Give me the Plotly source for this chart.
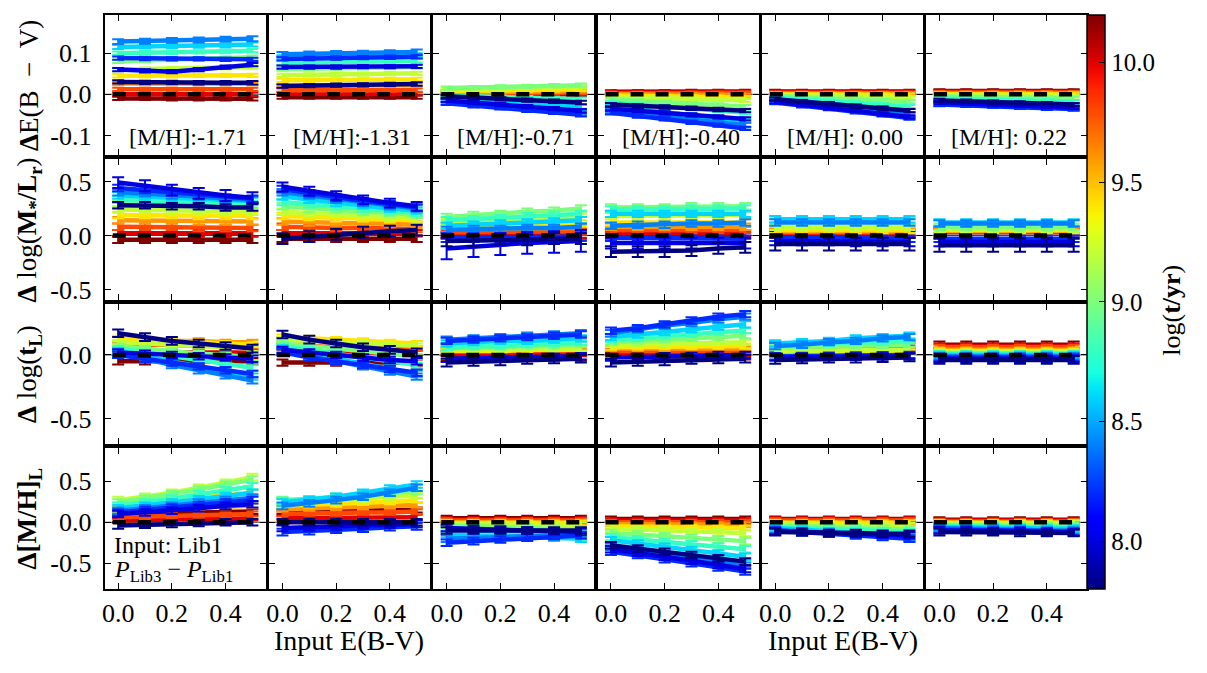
import numpy as np
import plotly.graph_objects as go
from plotly.subplots import make_subplots

# ---------------- data ----------------
AGES = [7.8, 8.0, 8.2, 8.4, 8.6, 8.8, 9.0, 9.2, 9.4, 9.6, 9.8, 10.0, 10.2]
XPTS = [0.0, 0.1, 0.2, 0.3, 0.4, 0.5]
MH_LABELS = ["[M/H]:-1.71", "[M/H]:-1.31", "[M/H]:-0.71", "[M/H]:-0.40", "[M/H]: 0.00", "[M/H]: 0.22"]
ROW_TITLES = ["<b>Δ</b>E(B\u2002−\u2002V)",
              "<b>Δ</b> log(<b>M<sub>*</sub>/L<sub>r</sub></b>)",
              "<b>Δ</b> log(<b>t<sub>L</sub></b>)",
              "<b>Δ[M/H]<sub>L</sub></b>"]
X_TICKVALS = [0.0, 0.2, 0.4]
X_TICKTEXT = ["0.0", "0.2", "0.4"]
Y_TICKVALS = [[-0.1, 0.0, 0.1], [-0.5, 0.0, 0.5], [-0.5, 0.0], [-0.5, 0.0, 0.5]]
Y_TICKTEXT = [["-0.1", "0.0", "0.1"], ["-0.5", "0.0", "0.5"], ["-0.5", "0.0"], ["-0.5", "0.0", "0.5"]]
CB_TICKS = [8.0, 8.5, 9.0, 9.5, 10.0]
CB_TICKTEXT = ["8.0", "8.5", "9.0", "9.5", "10.0"]

# Row 1: Delta E(B-V)  (one row per age in AGES, values at XPTS)
dEBV_171 = [
    [0.030, 0.029, 0.029, 0.028, 0.028, 0.028],
    [0.060, 0.057, 0.055, 0.060, 0.066, 0.072],
    [0.088, 0.087, 0.086, 0.086, 0.085, 0.085],
    [0.128, 0.129, 0.131, 0.132, 0.134, 0.135],
    [0.115, 0.116, 0.117, 0.118, 0.119, 0.121],
    [0.100, 0.101, 0.102, 0.103, 0.104, 0.106],
    [0.080, 0.082, 0.084, 0.086, 0.088, 0.090],
    [0.060, 0.061, 0.062, 0.063, 0.064, 0.066],
    [0.045, 0.045, 0.045, 0.046, 0.046, 0.046],
    [0.026, 0.026, 0.026, 0.026, 0.026, 0.026],
    [0.012, 0.012, 0.012, 0.012, 0.012, 0.012],
    [0.000, 0.000, 0.000, 0.000, 0.000, 0.000],
    [-0.010, -0.010, -0.011, -0.011, -0.011, -0.011],
]
dEBV_131 = [
    [0.020, 0.021, 0.022, 0.023, 0.024, 0.025],
    [0.066, 0.066, 0.066, 0.067, 0.067, 0.068],
    [0.086, 0.087, 0.088, 0.089, 0.090, 0.091],
    [0.097, 0.098, 0.099, 0.100, 0.101, 0.103],
    [0.090, 0.091, 0.092, 0.093, 0.094, 0.095],
    [0.076, 0.077, 0.078, 0.079, 0.080, 0.081],
    [0.061, 0.062, 0.063, 0.064, 0.065, 0.066],
    [0.046, 0.047, 0.048, 0.049, 0.050, 0.051],
    [0.034, 0.034, 0.035, 0.035, 0.036, 0.036],
    [0.021, 0.021, 0.021, 0.021, 0.022, 0.022],
    [0.010, 0.010, 0.010, 0.010, 0.010, 0.010],
    [0.001, 0.001, 0.001, 0.001, 0.001, 0.001],
    [-0.007, -0.007, -0.007, -0.007, -0.007, -0.007],
]
dEBV_071 = [
    [-0.005, -0.008, -0.011, -0.014, -0.017, -0.020],
    [-0.015, -0.020, -0.025, -0.030, -0.035, -0.040],
    [-0.022, -0.028, -0.033, -0.039, -0.044, -0.050],
    [-0.018, -0.023, -0.029, -0.034, -0.040, -0.045],
    [-0.008, -0.012, -0.017, -0.021, -0.026, -0.030],
    [-0.003, -0.005, -0.007, -0.008, -0.010, -0.012],
    [0.015, 0.016, 0.018, 0.019, 0.021, 0.022],
    [0.012, 0.013, 0.014, 0.016, 0.017, 0.018],
    [0.008, 0.009, 0.010, 0.010, 0.011, 0.012],
    [0.005, 0.006, 0.006, 0.007, 0.007, 0.008],
    [0.003, 0.003, 0.003, 0.004, 0.004, 0.004],
    [0.001, 0.001, 0.001, 0.002, 0.002, 0.002],
    [0.000, 0.000, 0.000, 0.000, 0.000, 0.000],
]
dEBV_040 = [
    [-0.025, -0.028, -0.031, -0.034, -0.037, -0.040],
    [-0.035, -0.040, -0.045, -0.050, -0.055, -0.060],
    [-0.045, -0.053, -0.060, -0.068, -0.075, -0.083],
    [-0.040, -0.047, -0.054, -0.061, -0.068, -0.075],
    [-0.030, -0.037, -0.044, -0.051, -0.058, -0.065],
    [-0.020, -0.025, -0.030, -0.035, -0.040, -0.045],
    [-0.012, -0.016, -0.019, -0.023, -0.026, -0.030],
    [-0.006, -0.008, -0.010, -0.011, -0.013, -0.015],
    [-0.003, -0.004, -0.005, -0.006, -0.007, -0.008],
    [0.000, 0.000, -0.001, -0.001, -0.002, -0.002],
    [0.002, 0.002, 0.002, 0.003, 0.003, 0.003],
    [0.004, 0.004, 0.004, 0.005, 0.005, 0.005],
    [0.006, 0.006, 0.006, 0.007, 0.007, 0.007],
]
dEBV_000 = [
    [-0.012, -0.018, -0.023, -0.029, -0.034, -0.040],
    [-0.018, -0.025, -0.033, -0.040, -0.048, -0.055],
    [-0.020, -0.028, -0.035, -0.043, -0.050, -0.058],
    [-0.016, -0.023, -0.030, -0.036, -0.043, -0.050],
    [-0.012, -0.018, -0.023, -0.029, -0.034, -0.040],
    [-0.008, -0.012, -0.017, -0.021, -0.026, -0.030],
    [-0.004, -0.007, -0.010, -0.012, -0.015, -0.018],
    [-0.002, -0.003, -0.004, -0.006, -0.007, -0.008],
    [0.000, 0.000, -0.001, -0.001, -0.002, -0.002],
    [0.001, 0.001, 0.001, 0.001, 0.001, 0.001],
    [0.003, 0.003, 0.003, 0.003, 0.003, 0.003],
    [0.005, 0.005, 0.005, 0.005, 0.005, 0.005],
    [0.007, 0.007, 0.007, 0.007, 0.007, 0.007],
]
dEBV_022 = [
    [-0.015, -0.017, -0.019, -0.021, -0.023, -0.025],
    [-0.020, -0.022, -0.025, -0.027, -0.030, -0.032],
    [-0.025, -0.027, -0.029, -0.032, -0.034, -0.036],
    [-0.022, -0.024, -0.026, -0.029, -0.031, -0.033],
    [-0.016, -0.018, -0.020, -0.022, -0.024, -0.026],
    [-0.010, -0.012, -0.013, -0.015, -0.016, -0.018],
    [-0.005, -0.006, -0.007, -0.008, -0.009, -0.010],
    [-0.002, -0.002, -0.003, -0.003, -0.004, -0.004],
    [0.000, 0.000, 0.000, 0.000, 0.000, 0.000],
    [0.002, 0.002, 0.002, 0.002, 0.002, 0.002],
    [0.004, 0.004, 0.004, 0.004, 0.004, 0.004],
    [0.006, 0.006, 0.006, 0.006, 0.006, 0.006],
    [0.008, 0.008, 0.008, 0.008, 0.008, 0.008],
]
eEBV = [0.004, 0.004, 0.004, 0.006, 0.005, 0.004, 0.004, 0.004, 0.004, 0.004, 0.004, 0.004, 0.004]

# Row 2: Delta log(M*/Lr)
dML_171 = [
    [0.28, 0.28, 0.27, 0.27, 0.26, 0.26],
    [0.49, 0.46, 0.42, 0.39, 0.37, 0.35],
    [0.44, 0.42, 0.40, 0.37, 0.35, 0.34],
    [0.40, 0.39, 0.37, 0.36, 0.34, 0.33],
    [0.37, 0.36, 0.35, 0.34, 0.33, 0.32],
    [0.33, 0.32, 0.31, 0.31, 0.30, 0.29],
    [0.29, 0.28, 0.28, 0.27, 0.27, 0.26],
    [0.24, 0.24, 0.23, 0.23, 0.22, 0.22],
    [0.19, 0.19, 0.19, 0.18, 0.18, 0.18],
    [0.14, 0.14, 0.14, 0.13, 0.13, 0.13],
    [0.08, 0.08, 0.08, 0.07, 0.07, 0.07],
    [0.02, 0.02, 0.02, 0.02, 0.02, 0.02],
    [-0.04, -0.04, -0.04, -0.04, -0.04, -0.04],
]
dML_131 = [
    [-0.03, -0.01, 0.01, 0.03, 0.04, 0.05],
    [0.45, 0.41, 0.37, 0.33, 0.30, 0.27],
    [0.43, 0.39, 0.35, 0.32, 0.29, 0.26],
    [0.40, 0.37, 0.33, 0.30, 0.27, 0.25],
    [0.36, 0.33, 0.30, 0.28, 0.25, 0.23],
    [0.31, 0.29, 0.27, 0.25, 0.23, 0.21],
    [0.27, 0.25, 0.24, 0.22, 0.21, 0.19],
    [0.22, 0.21, 0.20, 0.18, 0.17, 0.16],
    [0.18, 0.17, 0.16, 0.16, 0.15, 0.14],
    [0.13, 0.12, 0.12, 0.11, 0.11, 0.10],
    [0.08, 0.07, 0.07, 0.07, 0.06, 0.06],
    [0.02, 0.02, 0.02, 0.02, 0.02, 0.02],
    [-0.03, -0.03, -0.03, -0.03, -0.03, -0.03],
]
dML_071 = [
    [-0.05, -0.05, -0.04, -0.04, -0.03, -0.03],
    [-0.12, -0.10, -0.08, -0.07, -0.06, -0.05],
    [-0.02, -0.02, -0.02, -0.01, -0.01, -0.01],
    [0.05, 0.06, 0.06, 0.07, 0.07, 0.08],
    [0.09, 0.10, 0.11, 0.12, 0.13, 0.14],
    [0.14, 0.15, 0.16, 0.18, 0.19, 0.20],
    [0.17, 0.19, 0.20, 0.22, 0.23, 0.25],
    [0.13, 0.14, 0.15, 0.15, 0.16, 0.17],
    [0.09, 0.09, 0.10, 0.10, 0.11, 0.11],
    [0.06, 0.06, 0.06, 0.07, 0.07, 0.07],
    [0.03, 0.03, 0.03, 0.04, 0.04, 0.04],
    [0.01, 0.01, 0.01, 0.01, 0.01, 0.01],
    [0.00, 0.00, 0.00, 0.00, 0.00, 0.00],
]
dML_040 = [
    [-0.15, -0.15, -0.15, -0.14, -0.12, -0.11],
    [-0.07, -0.07, -0.07, -0.07, -0.07, -0.07],
    [-0.02, -0.02, -0.02, -0.03, -0.03, -0.03],
    [0.09, 0.10, 0.10, 0.11, 0.11, 0.12],
    [0.20, 0.20, 0.20, 0.20, 0.20, 0.20],
    [0.24, 0.24, 0.24, 0.25, 0.25, 0.25],
    [0.26, 0.26, 0.26, 0.27, 0.27, 0.27],
    [0.18, 0.18, 0.18, 0.19, 0.19, 0.19],
    [0.12, 0.12, 0.12, 0.12, 0.12, 0.12],
    [0.08, 0.08, 0.08, 0.08, 0.08, 0.08],
    [0.05, 0.05, 0.05, 0.05, 0.05, 0.05],
    [0.02, 0.02, 0.02, 0.02, 0.02, 0.02],
    [0.00, 0.00, 0.00, 0.00, 0.00, 0.00],
]
dML_000 = [
    [-0.08, -0.08, -0.08, -0.08, -0.08, -0.08],
    [-0.05, -0.05, -0.05, -0.06, -0.06, -0.06],
    [-0.02, -0.02, -0.02, -0.03, -0.03, -0.03],
    [0.12, 0.12, 0.12, 0.12, 0.12, 0.12],
    [0.15, 0.15, 0.15, 0.15, 0.15, 0.15],
    [0.15, 0.15, 0.15, 0.14, 0.14, 0.14],
    [0.13, 0.13, 0.13, 0.13, 0.13, 0.13],
    [0.08, 0.08, 0.08, 0.08, 0.08, 0.08],
    [0.05, 0.05, 0.05, 0.05, 0.05, 0.05],
    [0.04, 0.04, 0.04, 0.04, 0.04, 0.04],
    [0.03, 0.03, 0.03, 0.03, 0.03, 0.03],
    [0.02, 0.02, 0.02, 0.02, 0.02, 0.02],
    [0.01, 0.01, 0.01, 0.01, 0.01, 0.01],
]
dML_022 = [
    [-0.09, -0.09, -0.09, -0.09, -0.09, -0.09],
    [-0.06, -0.06, -0.06, -0.06, -0.06, -0.06],
    [-0.03, -0.03, -0.03, -0.03, -0.03, -0.03],
    [0.11, 0.11, 0.11, 0.11, 0.11, 0.11],
    [0.12, 0.12, 0.12, 0.12, 0.12, 0.12],
    [0.11, 0.11, 0.11, 0.11, 0.11, 0.11],
    [0.08, 0.08, 0.08, 0.08, 0.08, 0.08],
    [0.06, 0.06, 0.06, 0.06, 0.06, 0.06],
    [0.05, 0.05, 0.05, 0.05, 0.05, 0.05],
    [0.04, 0.04, 0.04, 0.04, 0.04, 0.04],
    [0.05, 0.05, 0.05, 0.05, 0.05, 0.05],
    [0.05, 0.05, 0.05, 0.05, 0.05, 0.05],
    [0.03, 0.03, 0.03, 0.03, 0.03, 0.03],
]
eML_171 = [0.03, 0.05, 0.03, 0.03, 0.03, 0.03, 0.03, 0.03, 0.03, 0.03, 0.03, 0.03, 0.03]
eML_131 = [0.05, 0.04, 0.03, 0.03, 0.03, 0.03, 0.03, 0.03, 0.03, 0.03, 0.03, 0.03, 0.03]
eML_071 = [0.05, 0.10, 0.04, 0.03, 0.03, 0.03, 0.03, 0.03, 0.03, 0.03, 0.03, 0.03, 0.03]
eML_040 = [0.05, 0.05, 0.03, 0.03, 0.03, 0.03, 0.03, 0.03, 0.03, 0.03, 0.03, 0.03, 0.03]
eML_000 = [0.06, 0.04, 0.03, 0.03, 0.03, 0.03, 0.03, 0.03, 0.03, 0.03, 0.03, 0.03, 0.03]
eML_022 = [0.06, 0.04, 0.03, 0.03, 0.03, 0.03, 0.03, 0.03, 0.03, 0.03, 0.03, 0.03, 0.03]

# Row 3: Delta log(t_L)
dTL_171 = [
    [0.17, 0.14, 0.11, 0.09, 0.07, 0.05],
    [0.02, 0.01, 0.00, -0.01, -0.02, -0.03],
    [0.00, -0.03, -0.06, -0.09, -0.12, -0.15],
    [0.01, -0.03, -0.08, -0.12, -0.16, -0.20],
    [0.03, -0.01, -0.05, -0.09, -0.13, -0.17],
    [0.05, 0.02, -0.01, -0.04, -0.07, -0.10],
    [0.07, 0.05, 0.03, 0.01, 0.00, -0.02],
    [0.10, 0.09, 0.08, 0.07, 0.06, 0.05],
    [0.13, 0.12, 0.11, 0.10, 0.09, 0.08],
    [0.12, 0.12, 0.11, 0.11, 0.10, 0.10],
    [0.08, 0.08, 0.08, 0.07, 0.07, 0.07],
    [0.03, 0.03, 0.02, 0.02, 0.02, 0.02],
    [-0.05, -0.05, -0.05, -0.05, -0.05, -0.05],
]
dTL_131 = [
    [0.16, 0.12, 0.09, 0.06, 0.04, 0.02],
    [0.04, 0.02, 0.00, -0.02, -0.04, -0.05],
    [0.02, -0.02, -0.05, -0.08, -0.11, -0.14],
    [0.03, -0.01, -0.05, -0.09, -0.13, -0.17],
    [0.05, 0.01, -0.03, -0.07, -0.11, -0.15],
    [0.07, 0.04, 0.01, -0.02, -0.05, -0.08],
    [0.09, 0.07, 0.05, 0.03, 0.01, -0.01],
    [0.12, 0.11, 0.10, 0.09, 0.08, 0.07],
    [0.14, 0.13, 0.12, 0.11, 0.10, 0.09],
    [0.12, 0.11, 0.11, 0.10, 0.09, 0.09],
    [0.07, 0.07, 0.06, 0.06, 0.05, 0.05],
    [0.02, 0.02, 0.02, 0.02, 0.02, 0.02],
    [-0.06, -0.06, -0.06, -0.06, -0.06, -0.06],
]
dTL_071 = [
    [-0.06, -0.055, -0.05, -0.04, -0.035, -0.03],
    [-0.03, -0.026, -0.022, -0.018, -0.014, -0.01],
    [0.11, 0.12, 0.13, 0.14, 0.15, 0.16],
    [0.12, 0.13, 0.14, 0.15, 0.16, 0.17],
    [0.09, 0.10, 0.11, 0.11, 0.12, 0.13],
    [0.06, 0.07, 0.07, 0.08, 0.09, 0.10],
    [0.05, 0.06, 0.06, 0.07, 0.07, 0.08],
    [0.04, 0.04, 0.04, 0.05, 0.05, 0.05],
    [0.03, 0.03, 0.03, 0.04, 0.04, 0.04],
    [0.04, 0.04, 0.04, 0.04, 0.04, 0.04],
    [0.03, 0.03, 0.03, 0.03, 0.03, 0.03],
    [0.01, 0.01, 0.01, 0.01, 0.01, 0.01],
    [-0.02, -0.02, -0.02, -0.02, -0.02, -0.02],
]
dTL_040 = [
    [-0.06, -0.055, -0.05, -0.04, -0.035, -0.03],
    [-0.02, -0.015, -0.01, -0.005, 0.00, 0.00],
    [0.19, 0.21, 0.24, 0.27, 0.30, 0.32],
    [0.17, 0.20, 0.23, 0.25, 0.28, 0.30],
    [0.14, 0.16, 0.18, 0.20, 0.22, 0.24],
    [0.12, 0.13, 0.15, 0.16, 0.18, 0.19],
    [0.10, 0.11, 0.12, 0.13, 0.14, 0.15],
    [0.08, 0.085, 0.09, 0.095, 0.10, 0.10],
    [0.06, 0.062, 0.064, 0.066, 0.068, 0.07],
    [0.05, 0.05, 0.05, 0.05, 0.05, 0.05],
    [0.03, 0.03, 0.03, 0.03, 0.03, 0.03],
    [0.01, 0.01, 0.01, 0.01, 0.01, 0.01],
    [-0.01, -0.01, -0.01, -0.01, -0.01, -0.01],
]
dTL_000 = [
    [-0.04, -0.035, -0.03, -0.03, -0.025, -0.02],
    [-0.02, -0.018, -0.016, -0.014, -0.012, -0.01],
    [-0.01, -0.008, -0.006, -0.004, -0.002, 0.00],
    [0.07, 0.08, 0.10, 0.11, 0.13, 0.14],
    [0.09, 0.10, 0.11, 0.13, 0.14, 0.15],
    [0.08, 0.09, 0.09, 0.10, 0.10, 0.11],
    [0.06, 0.065, 0.07, 0.07, 0.075, 0.08],
    [0.03, 0.032, 0.034, 0.036, 0.038, 0.04],
    [0.02, 0.02, 0.02, 0.02, 0.02, 0.02],
    [0.03, 0.03, 0.03, 0.03, 0.03, 0.03],
    [0.05, 0.05, 0.05, 0.05, 0.05, 0.05],
    [0.07, 0.07, 0.07, 0.07, 0.07, 0.07],
    [0.08, 0.08, 0.08, 0.08, 0.08, 0.08],
]
dTL_022 = [
    [-0.04, -0.04, -0.04, -0.04, -0.04, -0.04],
    [-0.03, -0.03, -0.03, -0.03, -0.03, -0.03],
    [-0.02, -0.02, -0.02, -0.02, -0.02, -0.02],
    [-0.01, -0.01, -0.01, -0.01, -0.01, -0.01],
    [0.00, 0.00, 0.00, 0.00, 0.00, 0.00],
    [0.01, 0.01, 0.01, 0.01, 0.01, 0.01],
    [0.015, 0.015, 0.015, 0.015, 0.015, 0.015],
    [0.02, 0.02, 0.02, 0.02, 0.02, 0.02],
    [0.03, 0.03, 0.03, 0.03, 0.03, 0.03],
    [0.04, 0.04, 0.04, 0.04, 0.04, 0.04],
    [0.06, 0.06, 0.06, 0.06, 0.06, 0.06],
    [0.07, 0.07, 0.07, 0.07, 0.07, 0.07],
    [0.08, 0.08, 0.08, 0.08, 0.08, 0.08],
]
eTL = [0.03, 0.025, 0.025, 0.025, 0.025, 0.02, 0.02, 0.02, 0.02, 0.02, 0.02, 0.02, 0.025]

# Row 4: Delta [M/H]_L
dMH_171 = [
    [-0.04, -0.03, -0.02, -0.01, 0.00, 0.00],
    [0.10, 0.12, 0.14, 0.17, 0.20, 0.22],
    [0.12, 0.15, 0.18, 0.21, 0.24, 0.27],
    [0.14, 0.17, 0.20, 0.24, 0.27, 0.30],
    [0.17, 0.20, 0.24, 0.28, 0.32, 0.36],
    [0.20, 0.24, 0.29, 0.34, 0.39, 0.44],
    [0.24, 0.29, 0.34, 0.40, 0.46, 0.52],
    [0.27, 0.31, 0.36, 0.42, 0.48, 0.55],
    [0.21, 0.24, 0.27, 0.30, 0.33, 0.36],
    [0.15, 0.16, 0.17, 0.18, 0.19, 0.20],
    [0.06, 0.07, 0.08, 0.08, 0.09, 0.10],
    [0.02, 0.03, 0.03, 0.04, 0.04, 0.05],
    [0.10, 0.10, 0.11, 0.12, 0.12, 0.13],
]
dMH_131 = [
    [0.00, 0.00, 0.00, 0.00, 0.00, 0.00],
    [-0.07, -0.06, -0.05, -0.04, -0.03, -0.02],
    [-0.12, -0.11, -0.09, -0.08, -0.06, -0.05],
    [0.20, 0.23, 0.27, 0.31, 0.36, 0.42],
    [0.24, 0.27, 0.31, 0.36, 0.41, 0.46],
    [0.26, 0.28, 0.31, 0.34, 0.38, 0.42],
    [0.27, 0.28, 0.30, 0.33, 0.35, 0.38],
    [0.25, 0.26, 0.27, 0.29, 0.31, 0.33],
    [0.20, 0.21, 0.22, 0.24, 0.25, 0.27],
    [0.16, 0.17, 0.18, 0.19, 0.20, 0.21],
    [0.10, 0.11, 0.11, 0.12, 0.12, 0.13],
    [0.05, 0.05, 0.05, 0.06, 0.06, 0.06],
    [0.13, 0.13, 0.14, 0.14, 0.15, 0.15],
]
dMH_071 = [
    [-0.10, -0.10, -0.10, -0.10, -0.10, -0.10],
    [-0.07, -0.08, -0.09, -0.10, -0.11, -0.12],
    [-0.25, -0.23, -0.21, -0.19, -0.17, -0.16],
    [-0.20, -0.19, -0.18, -0.17, -0.16, -0.15],
    [-0.15, -0.16, -0.17, -0.18, -0.19, -0.20],
    [-0.08, -0.10, -0.12, -0.14, -0.16, -0.18],
    [-0.04, -0.05, -0.06, -0.07, -0.08, -0.09],
    [-0.02, -0.02, -0.03, -0.03, -0.04, -0.04],
    [-0.01, -0.01, -0.01, -0.01, -0.01, -0.01],
    [0.00, 0.00, 0.00, 0.00, 0.00, 0.00],
    [0.02, 0.02, 0.02, 0.02, 0.02, 0.02],
    [0.03, 0.03, 0.03, 0.03, 0.03, 0.03],
    [0.05, 0.05, 0.05, 0.05, 0.05, 0.05],
]
dMH_040 = [
    [-0.28, -0.32, -0.36, -0.40, -0.44, -0.48],
    [-0.33, -0.37, -0.42, -0.47, -0.52, -0.57],
    [-0.36, -0.40, -0.45, -0.50, -0.55, -0.60],
    [-0.30, -0.34, -0.39, -0.44, -0.49, -0.53],
    [-0.22, -0.26, -0.30, -0.34, -0.38, -0.42],
    [-0.18, -0.21, -0.24, -0.27, -0.30, -0.33],
    [-0.13, -0.15, -0.17, -0.19, -0.21, -0.23],
    [-0.08, -0.09, -0.10, -0.11, -0.12, -0.13],
    [-0.05, -0.05, -0.06, -0.06, -0.07, -0.07],
    [-0.02, -0.02, -0.02, -0.03, -0.03, -0.03],
    [0.00, 0.00, 0.00, 0.00, 0.00, 0.00],
    [0.02, 0.02, 0.02, 0.02, 0.02, 0.02],
    [0.04, 0.04, 0.04, 0.04, 0.04, 0.04],
]
dMH_000 = [
    [-0.12, -0.12, -0.13, -0.13, -0.14, -0.14],
    [-0.11, -0.12, -0.13, -0.14, -0.15, -0.16],
    [-0.10, -0.12, -0.14, -0.16, -0.18, -0.20],
    [-0.09, -0.11, -0.13, -0.15, -0.17, -0.19],
    [-0.07, -0.09, -0.11, -0.13, -0.15, -0.17],
    [-0.06, -0.07, -0.08, -0.10, -0.11, -0.12],
    [-0.04, -0.05, -0.06, -0.07, -0.08, -0.09],
    [-0.02, -0.03, -0.03, -0.04, -0.04, -0.05],
    [-0.01, -0.01, -0.01, -0.01, -0.01, -0.01],
    [0.00, 0.00, 0.00, 0.00, 0.00, 0.00],
    [0.02, 0.02, 0.02, 0.02, 0.02, 0.02],
    [0.03, 0.03, 0.03, 0.03, 0.03, 0.03],
    [0.04, 0.04, 0.04, 0.04, 0.04, 0.04],
]
dMH_022 = [
    [-0.12, -0.12, -0.12, -0.13, -0.13, -0.13],
    [-0.10, -0.10, -0.11, -0.11, -0.12, -0.12],
    [-0.09, -0.09, -0.10, -0.10, -0.11, -0.12],
    [-0.07, -0.08, -0.08, -0.09, -0.10, -0.10],
    [-0.06, -0.06, -0.07, -0.07, -0.08, -0.08],
    [-0.04, -0.05, -0.05, -0.06, -0.06, -0.07],
    [-0.03, -0.03, -0.04, -0.04, -0.05, -0.05],
    [-0.02, -0.02, -0.02, -0.02, -0.02, -0.02],
    [-0.01, -0.01, -0.01, -0.01, -0.01, -0.01],
    [0.00, 0.00, 0.00, 0.00, 0.00, 0.00],
    [0.01, 0.01, 0.01, 0.01, 0.01, 0.01],
    [0.02, 0.02, 0.02, 0.02, 0.02, 0.02],
    [0.03, 0.03, 0.03, 0.03, 0.03, 0.03],
]
eMH = [0.04, 0.04, 0.04, 0.04, 0.04, 0.04, 0.04, 0.04, 0.03, 0.03, 0.03, 0.03, 0.03]

PANELS = [
    [dEBV_171, dEBV_131, dEBV_071, dEBV_040, dEBV_000, dEBV_022],
    [dML_171, dML_131, dML_071, dML_040, dML_000, dML_022],
    [dTL_171, dTL_131, dTL_071, dTL_040, dTL_000, dTL_022],
    [dMH_171, dMH_131, dMH_071, dMH_040, dMH_000, dMH_022],
]
ERRORS = [
    [eEBV] * 6,
    [eML_171, eML_131, eML_071, eML_040, eML_000, eML_022],
    [eTL] * 6,
    [eMH] * 6,
]

# ---------------- styling ----------------
W, H = 1207, 673
FONT = "Liberation Serif"
ROW_RANGES = [[-0.148, 0.193], [-0.594, 0.704], [-0.70, 0.40], [-0.81, 0.90]]
X_RANGE = [-0.05, 0.55]
COL_LEFT = [102, 266.7, 431.3, 596, 760.7, 925.3]
COL_W = 161.5
ROW_TOP = [15, 160.6, 306.2, 451.8]
ROW_H = 141.3
AGE_MIN, AGE_MAX = 7.8, 10.2


def jet(v):
    t = (v - AGE_MIN) / (AGE_MAX - AGE_MIN)
    r = np.interp(t, [0, 0.35, 0.66, 0.89, 1], [0, 0, 1, 1, 0.5])
    g = np.interp(t, [0, 0.125, 0.375, 0.64, 0.91, 1], [0, 0, 1, 1, 0, 0])
    b = np.interp(t, [0, 0.11, 0.34, 0.65, 1], [0.5, 1, 1, 0, 0])
    return "rgb(%d,%d,%d)" % (round(r * 255), round(g * 255), round(b * 255))


JET_SCALE = [[i / 40, jet(AGE_MIN + (AGE_MAX - AGE_MIN) * i / 40)] for i in range(41)]

fig = make_subplots(rows=4, cols=6)

order = list(range(len(AGES)))[::-1]  # old first, young on top
for r in range(4):
    for c in range(6):
        data = PANELS[r][c]
        errs = ERRORS[r][c]
        for k in order:
            col = jet(AGES[k])
            fig.add_trace(go.Scatter(
                x=XPTS, y=data[k], mode="lines",
                line=dict(color=col, width=4.5),
                error_y=dict(type="data", array=[errs[k]] * len(XPTS), visible=True,
                             color=col, thickness=2, width=6),
                showlegend=False, hoverinfo="skip"), row=r + 1, col=c + 1)
        fig.add_trace(go.Scatter(
            x=[-0.02, 0.52], y=[0, 0], mode="lines",
            line=dict(color="black", width=4.5, dash="13px,12px"),
            showlegend=False, hoverinfo="skip"), row=r + 1, col=c + 1)

# colorbar carrier
fig.add_trace(go.Scatter(
    x=[-5], y=[0], mode="markers",
    marker=dict(color=[9.0], colorscale=JET_SCALE, cmin=AGE_MIN, cmax=AGE_MAX, showscale=True,
                colorbar=dict(
                    x=1087 / W, xanchor="left", y=1 - 15 / H, yanchor="top",
                    len=(593 - 15) / H, lenmode="fraction", thickness=18,
                    outlinewidth=1.5, outlinecolor="black", xpad=0, ypad=0,
                    ticks="inside", ticklen=6, tickcolor="black",
                    tickvals=CB_TICKS, ticktext=CB_TICKTEXT,
                    tickfont=dict(family=FONT, size=25, color="black"))),
    showlegend=False, hoverinfo="skip"), row=1, col=1)

for r in range(4):
    for c in range(6):
        n = r * 6 + c + 1
        xa = "xaxis" if n == 1 else "xaxis%d" % n
        ya = "yaxis" if n == 1 else "yaxis%d" % n
        fig.layout[xa].update(
            domain=[COL_LEFT[c] / W, (COL_LEFT[c] + COL_W) / W],
            range=X_RANGE, showgrid=False, zeroline=False,
            showline=True, linecolor="black", linewidth=2, mirror="ticks",
            ticks="inside", ticklen=6, tickwidth=1.2, tickcolor="black",
            tickvals=X_TICKVALS, ticktext=X_TICKTEXT,
            showticklabels=(r == 3), ticklabelstandoff=0,
            tickfont=dict(family=FONT, size=26, color="black"))
        fig.layout[ya].update(
            domain=[1 - (ROW_TOP[r] + ROW_H) / H, 1 - ROW_TOP[r] / H],
            range=ROW_RANGES[r], showgrid=False, zeroline=False,
            showline=True, linecolor="black", linewidth=2, mirror="ticks",
            ticks="inside", ticklen=6, tickwidth=1.2, tickcolor="black",
            tickvals=Y_TICKVALS[r], ticktext=Y_TICKTEXT[r],
            showticklabels=(c == 0), ticklabelstandoff=6,
            tickfont=dict(family=FONT, size=26, color="black"))
        sfx = "" if n == 1 else str(n)
        fig.add_shape(type="line", xref="x%s domain" % sfx, yref="y%s" % sfx,
                      x0=0, x1=1, y0=0, y1=0, layer="below",
                      line=dict(color="rgb(60,60,60)", width=1))
        if r == 0:
            fig.add_annotation(x=0.26, y=-0.104, xref="x%s" % sfx, yref="y%s" % sfx,
                               text=MH_LABELS[c], showarrow=False, xanchor="center", yanchor="middle",
                               font=dict(family=FONT, size=24, color="black"))

# bottom-left labels
fig.add_annotation(x=-0.022, y=-0.28, xref="x19", yref="y19", text="Input: Lib1",
                   showarrow=False, xanchor="left", yanchor="middle",
                   font=dict(family=FONT, size=24, color="black"))
fig.add_annotation(x=-0.022, y=-0.60, xref="x19", yref="y19",
                   text="<i>P</i><sub>Lib3</sub> − <i>P</i><sub>Lib1</sub>",
                   showarrow=False, xanchor="left", yanchor="middle",
                   font=dict(family=FONT, size=24, color="black"))

# row titles
for r in range(4):
    fig.add_annotation(x=26 / W, y=1 - (ROW_TOP[r] + ROW_H / 2) / H, xref="paper", yref="paper",
                       text=ROW_TITLES[r], textangle=-90, showarrow=False,
                       xanchor="center", yanchor="middle",
                       font=dict(family=FONT, size=27, color="black"))

# colorbar title
fig.add_annotation(x=1172 / W, y=1 - 313 / H, xref="paper", yref="paper",
                   text="log(<b>t/yr</b>)", textangle=-90, showarrow=False,
                   xanchor="center", yanchor="middle",
                   font=dict(family=FONT, size=26, color="black"))

# x titles
for cx in [347, 842]:
    fig.add_annotation(x=cx / W, y=1 - 645 / H, xref="paper", yref="paper",
                       text="Input E(B-V)", showarrow=False, xanchor="center", yanchor="middle",
                       font=dict(family=FONT, size=28, color="black"))

fig.update_layout(width=W, height=H, margin=dict(l=0, r=0, t=0, b=0),
                  paper_bgcolor="white", plot_bgcolor="white",
                  font=dict(family=FONT, color="black"))

fig.write_html("out.html")
